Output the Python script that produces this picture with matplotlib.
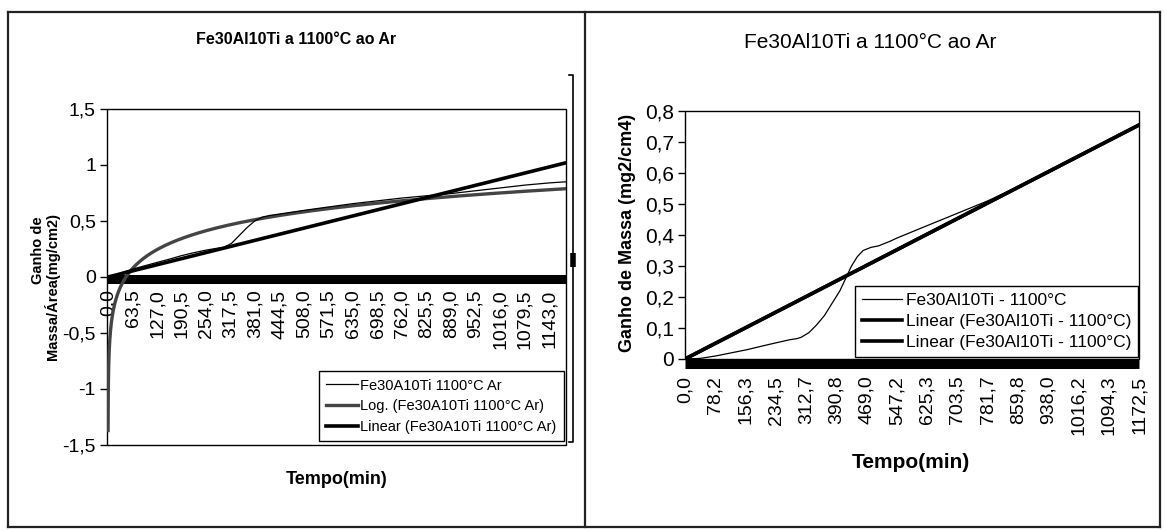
import numpy as np
import matplotlib.pyplot as plt
from matplotlib.patches import Rectangle

W, H = 1165, 531
NARROW = ['Liberation Sans Narrow', 'Liberation Sans', 'DejaVu Sans']
ARIAL = ['Liberation Sans', 'DejaVu Sans']

# one reading every 10 s; the trend equations use the reading number as x
dt = 1 / 6

# left chart: mass gain (mg/cm2) vs time (min)
left_t = [0, 20, 40, 63.5, 95, 127, 160, 190, 220, 254, 280, 300, 320, 340, 360,
          380, 400, 420, 450, 508, 571, 635, 698, 762, 825, 889, 952, 1016, 1079,
          1143, 1187]
left_gain = [0, 0.02, 0.045, 0.07, 0.1, 0.13, 0.16, 0.19, 0.215, 0.24, 0.255,
             0.265, 0.3, 0.37, 0.44, 0.5, 0.535, 0.55, 0.565, 0.595, 0.625, 0.655,
             0.68, 0.705, 0.725, 0.745, 0.77, 0.795, 0.82, 0.84, 0.85]
left_log_a, left_log_b, left_log_r2 = 0.2434, -1.3708, 0.8461
left_lin_a, left_lin_r2 = 1.432e-4, 0.8791
left_n_max = 7122
left_xticks = [0.0, 63.5, 127.0, 190.5, 254.0, 317.5, 381.0, 444.5, 508.0, 571.5,
               635.0, 698.5, 762.0, 825.5, 889.0, 952.5, 1016.0, 1079.5, 1143.0]
left_yticks = [-1.5, -1.0, -0.5, 0.0, 0.5, 1.0, 1.5]
left_ylabels = ['-1,5', '-1', '-0,5', '0', '0,5', '1', '1,5']
left_names = ['Fe30A10Ti 1100°C Ar', 'Log. (Fe30A10Ti 1100°C Ar)',
              'Linear (Fe30A10Ti 1100°C Ar)']

# right chart: mass gain (mg2/cm4) vs time (min)
right_t = [0, 40, 80, 120, 160, 200, 234.5, 270, 290, 300, 320, 340, 360, 380, 400,
           415, 430, 445, 460, 480, 500, 530, 547, 625, 703.5, 781.7, 859.8, 938,
           1016.2, 1094.3, 1172.5]
right_gain = [0, 0.002, 0.01, 0.02, 0.03, 0.042, 0.052, 0.062, 0.066, 0.07, 0.085,
              0.11, 0.14, 0.18, 0.22, 0.26, 0.3, 0.33, 0.35, 0.36, 0.365, 0.38, 0.39,
              0.43, 0.47, 0.51, 0.555, 0.6, 0.655, 0.705, 0.755]
right_lin_a, right_lin_r2 = 1.073e-4, 0.9651
right_n_max = 7035
right_xticks = [0.0, 78.2, 156.3, 234.5, 312.7, 390.8, 469.0, 547.2, 625.3, 703.5,
                781.7, 859.8, 938.0, 1016.2, 1094.3, 1172.5]
right_yticks = [0.0, 0.1, 0.2, 0.3, 0.4, 0.5, 0.6, 0.7, 0.8]
right_ylabels = ['0', '0,1', '0,2', '0,3', '0,4', '0,5', '0,6', '0,7', '0,8']
right_names = ['Fe30Al10Ti - 1100°C', 'Linear (Fe30Al10Ti - 1100°C)',
               'Linear (Fe30Al10Ti - 1100°C)']


def comma(v, nd):
    return f'{v:.{nd}f}'.replace('.', ',')


fig = plt.figure(figsize=(W / 100, H / 100), dpi=100)

# page layer in pixel units: panel frames and free text
bg = fig.add_axes([0, 0, 1, 1], zorder=-1)
bg.set_xlim(0, W); bg.set_ylim(H, 0); bg.axis('off')
for x in (8, 585, 1160):
    bg.plot([x, x], [12, 527], color='#222', lw=1.6)
for y in (12, 527):
    bg.plot([8, 1160], [y, y], color='#222', lw=1.6)
bg.plot([569, 573, 573, 569], [75, 75, 442, 442], color='k', lw=1.2)
bg.plot([573, 573], [253, 267], color='k', lw=4, solid_capstyle='butt')


def px_axes(x0, y0, x1, y1):
    return fig.add_axes([x0 / W, 1 - y1 / H, (x1 - x0) / W, (y1 - y0) / H])


def style_axis(ax, yticks, ylabels, ysize, xticks, xpad):
    for s in ax.spines.values():
        s.set_visible(False)
    ax.add_patch(Rectangle((0, 0), 1, 1, transform=ax.transAxes, fill=False,
                           lw=1.0, color='k', clip_on=False))
    ax.set_yticks(yticks)
    ax.set_yticklabels(ylabels, fontfamily=NARROW, fontsize=ysize)
    ax.tick_params(axis='y', direction='out', length=5, width=1, pad=3)
    ax.set_xticks(xticks)
    ax.set_xticklabels([comma(v, 1) for v in xticks], rotation=90,
                       fontfamily=ARIAL, fontsize=14)
    ax.tick_params(axis='x', length=0, pad=xpad)


# ---- left chart ----
ax = px_axes(107, 109, 566, 445)
ax.set_xlim(-2.6, 1187); ax.set_ylim(-1.5, 1.5)
ax.spines['bottom'].set_position(('data', 0))
style_axis(ax, left_yticks, left_ylabels, 14, left_xticks, 9)

n = np.arange(1, left_n_max + 1)
h_data, = ax.plot(left_t, left_gain, color='k', lw=0.9, zorder=4)
h_log, = ax.plot(n * dt, left_log_a * np.log(n) + left_log_b, color='#444', lw=2.4, zorder=3)
h_lin, = ax.plot(n * dt, left_lin_a * n, color='k', lw=2.6, zorder=3)
ax.axhline(-0.015, color='k', lw=6.5, solid_capstyle='butt', zorder=2)

leg = ax.legend([h_data, h_log, h_lin], left_names, loc='lower right',
                bbox_to_anchor=(564 / W, 1 - 441 / H), bbox_transform=fig.transFigure,
                borderaxespad=0, fancybox=False, framealpha=1, borderpad=0.5,
                labelspacing=0.45, handlelength=2.2, handletextpad=0.15,
                prop={'family': NARROW, 'size': 10.5})
leg.get_frame().set_edgecolor('k'); leg.get_frame().set_linewidth(1.0)

bg.text(296, 40, 'Fe30Al10Ti a 1100°C ao Ar', ha='center', va='center',
        fontfamily=NARROW, fontweight='bold', fontsize=11.5)
bg.text(262, 145, f'y = {comma(left_log_a, 4)}Ln(x) - {comma(-left_log_b, 4)}',
        ha='center', va='center', fontfamily=NARROW, fontsize=12)
bg.text(263, 177, f'R² = {comma(left_log_r2, 4)}', ha='center', va='center',
        fontfamily=NARROW, fontsize=12)
bg.text(459, 230, f'y = {comma(left_lin_a, 4)}x', ha='center', va='center',
        fontfamily=NARROW, fontsize=12)
bg.text(461, 260, f'R² = {comma(left_lin_r2, 4)}', ha='center', va='center',
        fontfamily=NARROW, fontsize=12)
bg.text(38, 250, 'Ganho de', rotation=90, ha='center', va='center',
        fontfamily=ARIAL, fontweight='bold', fontsize=10.5)
bg.text(52, 286, 'Massa/Área(mg/cm2)', rotation=90, ha='center', va='center',
        fontfamily=ARIAL, fontweight='bold', fontsize=10.5)
bg.text(337, 480, 'Tempo(min)', ha='center', va='center',
        fontfamily=NARROW, fontweight='bold', fontsize=13)

# ---- right chart ----
ax2 = px_axes(685, 111, 1139, 359)
ax2.set_xlim(0, 1172.5); ax2.set_ylim(0, 0.8)
style_axis(ax2, right_yticks, right_ylabels, 15, right_xticks, 12)

m = np.arange(0, right_n_max + 1)
r_data, = ax2.plot(right_t, right_gain, color='k', lw=0.9, zorder=4)
r_lin1, = ax2.plot(m * dt, right_lin_a * m, color='k', lw=2.6, zorder=3)
r_lin2, = ax2.plot(m * dt, right_lin_a * m, color='k', lw=2.6, zorder=3)
ax2.axhline(-0.0177, color='k', lw=6.5, solid_capstyle='butt', clip_on=False, zorder=2)

leg2 = ax2.legend([r_data, r_lin1, r_lin2], right_names, loc='lower right',
                  bbox_to_anchor=(1138 / W, 1 - 357 / H), bbox_transform=fig.transFigure,
                  borderaxespad=0, fancybox=False, framealpha=1, borderpad=0.4,
                  labelspacing=0.35, handlelength=2.3, handletextpad=0.2,
                  prop={'family': NARROW, 'size': 12.5})
leg2.get_frame().set_edgecolor('k'); leg2.get_frame().set_linewidth(1.0)

bg.text(870, 43, 'Fe30Al10Ti a 1100°C ao Ar', ha='center', va='center',
        fontfamily=ARIAL, fontsize=15)
bg.text(825, 157, f'y = {comma(right_lin_a, 4)}x', ha='center', va='center',
        fontfamily=NARROW, fontsize=13)
bg.text(825, 182, f'R² = {comma(right_lin_r2, 4)}', ha='center', va='center',
        fontfamily=NARROW, fontsize=13)
bg.text(627, 233, 'Ganho de Massa (mg2/cm4)', rotation=90, ha='center', va='center',
        fontfamily=ARIAL, fontweight='bold', fontsize=13)
bg.text(911, 462, 'Tempo(min)', ha='center', va='center',
        fontfamily=NARROW, fontweight='bold', fontsize=15)

fig.savefig('out.png', dpi=100)
